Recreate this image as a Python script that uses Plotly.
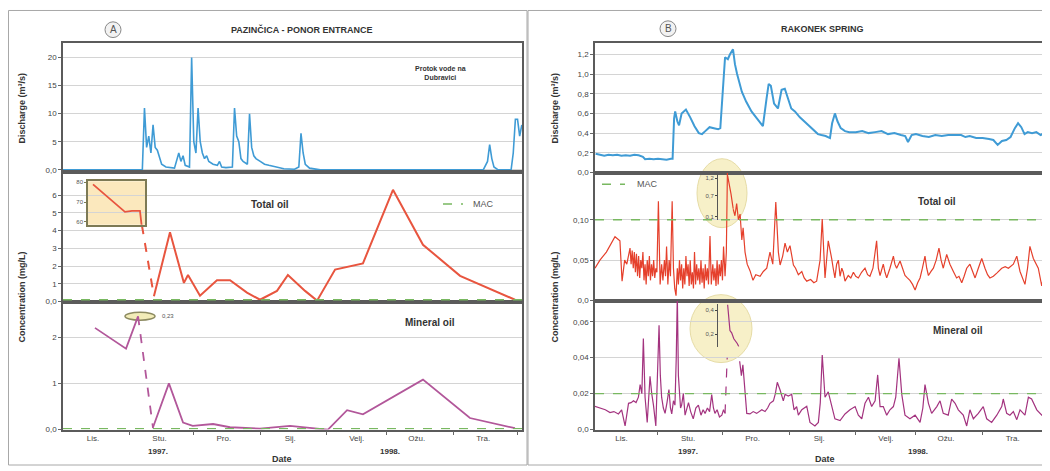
import pandas as pd
import plotly.graph_objects as go

W, H = 1042, 463   # page body adds an 8 px margin, so the figure fills 1050x471 with it
OFF = 8
T0 = pd.Timestamp("1997-10-01")  # all days are counted from 1 Oct 1997

months = ["Lis.", "Stu.", "Pro.", "Sij.", "Velj.", "Ožu.", "Tra."]
month_mid = ["1997-10-15", "1997-11-15", "1997-12-15", "1998-01-15", "1998-02-15", "1998-03-15", "1998-04-15"]
month_start = ["1997-11-01", "1997-12-01", "1998-01-01", "1998-02-01", "1998-03-01", "1998-04-01", "1998-05-01"]

mac_total = 0.10
mac_mineral = 0.02

# ---- A: Pazincica - ponor entrance
q_a_day = [0, 37, 38, 39, 40, 41, 42, 43, 44, 45, 46, 48, 52, 54, 55, 56, 57, 59, 60, 61,
           62, 63, 64, 65, 66, 67, 68, 70, 72, 73, 74, 76, 79, 80, 81, 82, 83, 84, 86, 87,
           88, 89, 90, 92, 94, 96, 99, 103, 108, 110, 111, 112, 113, 115, 120, 196, 198, 199, 200, 201,
           203, 209, 210, 211, 212, 213, 214]
q_a_val = [0, 0, 11, 4, 6, 3, 8, 4, 3.5, 2, 1, 0.5, 0.3, 3, 1.5, 2.5, 0.8, 0.5, 20, 5,
           3, 11, 5, 3, 2, 2.5, 1.5, 1, 0.8, 1.5, 0.5, 0.4, 0.5, 11, 6, 5, 2, 1.5, 1, 10,
           4, 2.5, 2, 1.5, 1, 0.8, 0.5, 0.2, 0.1, 0.5, 6.5, 3, 1, 0.3, 0, 0, 1.5, 4.5, 2, 0.5,
           0, 0, 3, 9, 9, 6, 8]

tot_a_day = [42.4, 49.9, 56.4, 58.3, 63.9, 71.8, 77.9, 85.8, 91.9, 99.8, 104.9, 112.9, 118.5,
             126.9, 139.9, 153.9, 167.9, 185.2, 210.8]
tot_a_val = [0.3, 3.9, 1.05, 1.5, 0.33, 1.2, 1.2, 0.5, 0.1, 0.6, 1.5, 0.6, 0.05,
             1.8, 2.15, 6.3, 3.2, 1.45, 0.1]
tot_a_gap_day = [36.8, 42.4]
tot_a_gap_val = [4.3, 0.3]
tot_a_inset_day = [14.0, 28.9, 32.2, 35.9, 36.8]
tot_a_inset_val = [79, 65, 65.5, 65.5, 57]

min_a_pre_day = [14.9, 29.4, 35.0]
min_a_pre_val = [2.2, 1.75, 2.45]
min_a_gap_day = [35.0, 42.0]
min_a_gap_val = [2.45, 0.03]
min_a_day = [42.0, 49.4, 56.0, 60.5, 70.0, 77.9, 91.9, 105.9, 118.5, 123.6, 132.5, 139.9, 167.9, 189.8, 210.8]
min_a_val = [0.05, 1.0, 0.15, 0.08, 0.12, 0.05, 0.02, 0.08, 0.02, 0.0, 0.42, 0.33, 1.08, 0.25, 0.03]

# ---- B: Rakonek spring
q_b_day = [2, 4, 6, 8, 10, 12, 14, 16, 18, 20, 22, 24, 25, 27, 29, 31, 33, 35, 37, 37.8,
           38.5, 39, 40, 40.8, 42, 44, 46, 48, 50, 51.5, 53, 55, 57, 59, 60, 61.5, 62.2, 63.5, 64.5, 65.9,
           66.8, 67.8, 70, 72, 74.5, 77, 79.8, 81.5, 82.5, 83.5, 85, 86.8, 88.5, 90, 91.5, 93, 94.7, 97, 99, 101,
           103, 105.4, 107, 109, 111, 112, 113.3, 114.5, 116, 118, 120, 123, 126, 129, 132, 135, 138, 141, 144, 146,
           147.3, 149, 151, 154, 157, 160, 163, 166, 169, 172, 174, 176, 179, 182, 185, 187, 189, 191, 193, 195,
           197, 198.5, 200, 201.5, 203, 205, 207, 209, 210.5, 212]
q_b_val = [0.19, 0.18, 0.17, 0.18, 0.175, 0.18, 0.17, 0.175, 0.17, 0.18, 0.175, 0.16, 0.135, 0.14, 0.135, 0.14, 0.135, 0.13, 0.14, 0.14,
           0.55, 0.62, 0.52, 0.48, 0.6, 0.64, 0.56, 0.47, 0.4, 0.39, 0.42, 0.46, 0.45, 0.44, 0.45, 1.0, 1.17, 1.15, 1.2, 1.25,
           1.1, 1.0, 0.82, 0.72, 0.62, 0.55, 0.47, 0.75, 0.9, 0.88, 0.7, 0.65, 0.84, 0.85, 0.75, 0.65, 0.62, 0.56, 0.52, 0.48,
           0.44, 0.39, 0.38, 0.37, 0.35, 0.5, 0.6, 0.52, 0.45, 0.42, 0.41, 0.41, 0.42, 0.4, 0.41, 0.42, 0.39, 0.4, 0.38, 0.37,
           0.31, 0.38, 0.39, 0.37, 0.36, 0.38, 0.37, 0.38, 0.38, 0.38, 0.36, 0.37, 0.35, 0.35, 0.34, 0.33, 0.28, 0.32, 0.33, 0.36,
           0.45, 0.5, 0.46, 0.39, 0.41, 0.4, 0.41, 0.38, 0.4, 0.53]

tot_b_day = [1.7, 4, 7, 9, 11, 13.3, 14.3, 15.5, 16.5, 18, 18.5, 19, 19.5, 20, 20.5, 21, 21.5, 22, 22.5, 23,
             23.5, 24, 24.5, 25, 25.5, 26, 26.5, 27, 27.5, 28, 28.5, 29, 29.5, 30, 30.5, 31.2, 32, 32.7, 33.3, 34,
             34.5, 35, 35.6, 36.2, 36.8, 37.6, 38.2, 38.8, 39.4, 40, 40.5, 41, 41.5, 42, 42.5, 43, 43.5, 44, 44.5, 45,
             45.5, 46, 46.5, 47, 47.5, 48, 48.5, 49, 49.5, 50, 50.5, 51, 51.5, 52, 52.5, 53, 53.5, 54, 54.5, 55.2,
             55.8, 56.5, 57, 57.5, 58, 58.5, 59, 59.5, 60, 60.5, 61, 61.5, 62.2, 62.8, 63.3, None,
             66.0, 66.8, 67.6, 68.4, 69.2, 70.0, 70.6, 71.5, 72.5, 73.8, 75.2, 76.5, 78.5, 80, 81.6, 83.1, 84.4, 85.8, 87.0, 87.8,
             89, 90.1, 91.2, 92.4, 94.0, 95, 96.3, 97.9, 99, 100.2, 102, 103.5, 104.8, 106.4, 107.4, 108.7, 110.2, 111.0, 111.8, 112.5,
             113.3, 114.1, 114.9, 115.7, 116.5, 117.2, 118, 119.5, 120.7, 121.9, 123, 124.2, 125.7, 127.3, 128.5, 129.6, 131, 132.7, 133.5, 134.3,
             135.8, 136.6, 137.4, 138.9, 140.5, 141.2, 142, 143.6, 144.7, 145.9, 147, 148.2, 149.4, 150.6, 151.8, 152.9, 154, 155.2, 156, 156.8,
             158, 159.1, 160.4, 161.7, 162.7, 163.7, 165.3, 166.8, 168.4, 169.9, 171, 172.3, 173.4, 174.6, 176.1, 177.3, 178.5, 180, 181.6, 183.1,
             184.3, 185.4, 187, 188.6, 190, 190.9, 192.5, 194, 196.3, 197.9, 199.4, 200.5, 201.7, 202.9, 204, 205.6, 206.8, 207.9, 209.5, 211,
             212.6]
tot_b_val = [0.040, 0.05, 0.06, 0.07, 0.079, 0.074, 0.024, 0.05, 0.045, 0.065, 0.045, 0.062, 0.04, 0.06, 0.035, 0.058, 0.03, 0.055, 0.028, 0.05,
             0.04, 0.06, 0.025, 0.045, 0.02, 0.05, 0.03, 0.055, 0.025, 0.045, 0.03, 0.05, 0.028, 0.04, 0.035, 0.123, 0.02, 0.045, 0.025, 0.05,
             0.03, 0.067, 0.02, 0.05, 0.03, 0.123, 0.04, 0.015, 0.006, 0.04, 0.02, 0.05, 0.025, 0.045, 0.015, 0.04, 0.02, 0.055, 0.03, 0.045,
             0.018, 0.05, 0.02, 0.035, 0.015, 0.06, 0.02, 0.045, 0.025, 0.04, 0.02, 0.05, 0.022, 0.04, 0.015, 0.045, 0.025, 0.04, 0.02, 0.08,
             0.02, 0.045, 0.025, 0.04, 0.018, 0.05, 0.02, 0.045, 0.03, 0.05, 0.025, 0.067, 0.03, 0.06, 0.16, None,
             0.113, 0.105, 0.12, 0.1, 0.107, 0.075, 0.09, 0.06, 0.045, 0.037, 0.025, 0.032, 0.03, 0.036, 0.04, 0.06, 0.045, 0.122, 0.06, 0.044,
             0.055, 0.071, 0.06, 0.068, 0.044, 0.04, 0.032, 0.036, 0.028, 0.024, 0.026, 0.022, 0.024, 0.05, 0.101, 0.028, 0.074, 0.06, 0.052, 0.04,
             0.028, 0.045, 0.05, 0.03, 0.04, 0.035, 0.024, 0.031, 0.028, 0.035, 0.03, 0.028, 0.035, 0.04, 0.032, 0.03, 0.04, 0.074, 0.04, 0.031,
             0.045, 0.035, 0.028, 0.04, 0.055, 0.045, 0.04, 0.049, 0.04, 0.031, 0.028, 0.025, 0.02, 0.013, 0.022, 0.028, 0.04, 0.055, 0.04, 0.031,
             0.036, 0.04, 0.05, 0.065, 0.05, 0.04, 0.057, 0.045, 0.036, 0.028, 0.03, 0.022, 0.03, 0.04, 0.045, 0.035, 0.028, 0.04, 0.052, 0.04,
             0.032, 0.028, 0.03, 0.034, 0.038, 0.04, 0.042, 0.04, 0.045, 0.055, 0.036, 0.028, 0.02, 0.04, 0.067, 0.052, 0.045, 0.04, 0.018, 0.04,
             0.03]
tot_b_inset_day = [63.4, 64.2, 65.0, 65.6, 66.0]
tot_b_inset_val = [1.28, 1.05, 0.75, 0.5, 0.33]

min_b_day = [1.5, 4, 6.5, 8.7, 10.5, 12.6, 14.1, 15.7, 17.3, 18.5, 19.6, 20.8, 21.9, 22.7, 23.5, 24.2, 25, 26, 26.6, 27.3,
             28.1, 28.9, 30, 30.8, 31.5, 32.1, 32.7, 33.5, 34.3, 35.2, 36.1, 36.8, 37.4, 38.2, 38.9, 39.5, 40.0, 40.5, 40.9, 41.5,
             42, 42.8, 43.6, 44.4, 45.2, 46.2, 47.4, 48.6, 49.8, 51, 52, 52.9, 54, 55, 56, 56.8, 57.5, 58.5, 59.6, 60.7,
             61.5, 62.2, None,
             69, 69.8, 70.5, 71.2, 72.3, 73.8, 75.3, 76.9, 78.1, 79.3, 80.8, 82, 83.1, 84.7, 85.6, 86.5, 87.8, 89.3, 90.1, 91.6,
             93.2, 94.3, 95.5, 96.3, 97.9, 99, 100.2, 101.7, 103, 104, 105.6, 106.5, 107.4, 108.7, 110.2, 111.8, 113.3, 115.7, 118, 120.3,
             122.7, 124.2, 125.8, 127.3, 128.9, 130.4, 132, 133.2, 134.3, 135.8, 137.4, 138.9, 140.5, 141.6, 143.1, 144.4, 145.9, 148.2, 150.6, 152.9,
             154.2, 155.2, 156.8, 158.3, 160.7, 162.2, 163.7, 166, 167.6, 169.2, 170.7, 173, 174.6, 176.1, 177.7, 180, 182.3, 183.9, 186.2, 188.6,
             190.9, 191.6, 193.2, 194.7, 196.3, 197.9, 199.4, 201.7, 203.3, 204.8, 207.2, 209.5, 211, 212.6]
min_b_val = [0.013, 0.0122, 0.011, 0.0095, 0.01, 0.0087, 0.011, 0.002, 0.0146, 0.015, 0.016, 0.015, 0.018, 0.025, 0.02, 0.0506, 0.018, 0.004, 0.015, 0.0296,
             0.02, 0.0136, 0.002, 0.03, 0.058, 0.03, 0.018, 0.012, 0.009, 0.015, 0.0223, 0.012, 0.0087, 0.016, 0.0136, 0.04, 0.075, 0.03, 0.022, 0.012,
             0.0136, 0.02, 0.008, 0.012, 0.015, 0.01, 0.006, 0.012, 0.0136, 0.008, 0.011, 0.009, 0.012, 0.01, 0.0195, 0.012, 0.009, 0.011, 0.007, 0.008,
             0.011, 0.009, None,
             0.038, 0.03, 0.036, 0.024, 0.009, 0.0087, 0.01, 0.009, 0.01, 0.011, 0.01, 0.012, 0.0146, 0.016, 0.02, 0.0263, 0.022, 0.016, 0.0196, 0.0186,
             0.0196, 0.011, 0.0128, 0.008, 0.011, 0.012, 0.013, 0.004, 0.003, 0.002, 0.004, 0.015, 0.0415, 0.018, 0.021, 0.0128, 0.006, 0.005, 0.0087, 0.011,
             0.0128, 0.008, 0.006, 0.0146, 0.018, 0.0128, 0.016, 0.0304, 0.0128, 0.0128, 0.008, 0.011, 0.0128, 0.018, 0.0397, 0.0196, 0.008, 0.006, 0.008, 0.004,
             0.012, 0.025, 0.0146, 0.009, 0.0128, 0.016, 0.009, 0.008, 0.017, 0.0146, 0.011, 0.008, 0.002, 0.011, 0.006, 0.009, 0.0128, 0.006, 0.004, 0.008,
             0.0128, 0.017, 0.009, 0.008, 0.01, 0.0055, 0.011, 0.008, 0.018, 0.017, 0.011, 0.008, 0.01, 0.008]
min_b_gap_day = [62.2, 63.2]
min_b_gap_val = [0.009, 0.04]
min_b_inset_day = [63.4, 64.5, 65.3, 66.3, 67.9, 68.6]
min_b_inset_val = [0.45, 0.23, 0.21, 0.16, 0.12, 0.095]

BLUE = "#3f9bd5"
RED = "#e5402c"
RED_A = "#e8553f"
PURPLE = "#a3337f"
PURPLE_A = "#b2579a"
GREEN = "#78b860"
FONT = "Liberation Sans, Arial, sans-serif"


def days(v):
    return [None if t is None else T0 + pd.Timedelta(minutes=round(t * 1440)) for t in v]


# positions below are given in screen pixels of the 1050x471 page
def fx(p):
    return (p - OFF) / W


def fy(p):
    return 1 - (p - OFF) / H


def xdom(a, b):
    return [fx(a), fx(b)]


def ydom(top, bottom):
    return [fy(bottom), fy(top)]


fig = go.Figure()


def line(xd, yv, xa, ya, color, width, dash="solid"):
    fig.add_trace(go.Scatter(x=days(xd), y=yv, xaxis=xa, yaxis=ya, mode="lines",
                             line=dict(color=color, width=width, dash=dash),
                             connectgaps=False, showlegend=False, hoverinfo="skip"))


line(q_a_day, q_a_val, "x", "y", BLUE, 1.6)
line(tot_a_day, tot_a_val, "x2", "y2", RED_A, 2)
line(tot_a_gap_day, tot_a_gap_val, "x2", "y2", RED_A, 2, "dash")
line(min_a_pre_day, min_a_pre_val, "x3", "y3", PURPLE_A, 1.8)
line(min_a_gap_day, min_a_gap_val, "x3", "y3", PURPLE_A, 1.8, "dash")
line(min_a_day, min_a_val, "x3", "y3", PURPLE_A, 1.8)
line(q_b_day, q_b_val, "x4", "y4", BLUE, 2)
line(tot_b_day, tot_b_val, "x5", "y5", RED, 1.2)
line(min_b_day, min_b_val, "x6", "y6", PURPLE, 1.2)
line(min_b_gap_day, min_b_gap_val, "x6", "y6", PURPLE, 1.2, "dash")
line(tot_a_inset_day, tot_a_inset_val, "x7", "y7", RED_A, 1.8)
line(tot_b_inset_day, tot_b_inset_val, "x8", "y8", RED, 1.2)
line(min_b_inset_day, min_b_inset_val, "x9", "y9", PURPLE, 1.2)

# axis styles
box = dict(showline=True, mirror=True, linecolor="#5b5b5b", linewidth=1.5, zeroline=False, showgrid=False)
tickfont = dict(size=8, color="#444", family=FONT)
yst = dict(box, showgrid=True, gridcolor="#d4d4d4", gridwidth=1, ticks="outside", ticklen=3,
           tickcolor="#666", tickfont=tickfont, tickmode="array")

range_a = [T0, T0 + pd.Timedelta(hours=214 * 24 + 2)]
range_b = [T0 + pd.Timedelta(hours=41), T0 + pd.Timedelta(hours=212 * 24 + 10)]
dom_a = xdom(63, 522)
dom_b = xdom(595, 1048)

xs_top = dict(box, type="date", showticklabels=False, ticks="")
xs_bot = dict(box, type="date", tickmode="array", tickvals=month_mid, ticktext=months, ticks="",
              tickfont=tickfont,
              minor=dict(tickmode="array", tickvals=month_start, ticks="outside", ticklen=4, tickcolor="#666"))

inset_range = [T0 + pd.Timedelta(hours=58 * 24 + 22), T0 + pd.Timedelta(hours=72 * 24 + 22)]

layout = dict(
    width=W, height=H, margin=dict(l=0, r=0, t=0, b=0),
    paper_bgcolor="white", plot_bgcolor="rgba(0,0,0,0)",
    font=dict(family=FONT, color="#333"), showlegend=False,
    xaxis=dict(xs_top, domain=dom_a, range=range_a, anchor="y"),
    xaxis2=dict(xs_top, domain=dom_a, range=range_a, anchor="y2"),
    xaxis3=dict(xs_bot, domain=dom_a, range=range_a, anchor="y3"),
    xaxis4=dict(xs_top, domain=dom_b, range=range_b, anchor="y4"),
    xaxis5=dict(xs_top, domain=dom_b, range=range_b, anchor="y5"),
    xaxis6=dict(xs_bot, domain=dom_b, range=range_b, anchor="y6"),
    yaxis=dict(yst, domain=ydom(42, 172), range=[-0.3, 22.5], anchor="x",
               tickvals=[0, 5, 10, 15, 20], ticktext=["0,0", "5", "10", "15", "20"]),
    yaxis2=dict(yst, domain=ydom(172, 304), range=[0, 7.33], anchor="x2",
                tickvals=[0, 1, 2, 3, 4, 5, 6], ticktext=["0,0", "1", "2", "3", "4", "5", "6"]),
    yaxis3=dict(yst, domain=ydom(304, 434), range=[0, 2.77], anchor="x3",
                tickvals=[0, 1, 2], ticktext=["0,0", "1", "2"]),
    yaxis4=dict(yst, domain=ydom(42, 173), range=[0, 1.31], anchor="x4",
                tickvals=[0, 0.2, 0.4, 0.6, 0.8, 1.0, 1.2],
                ticktext=["0,0", "0,2", "0,4", "0,6", "0,8", "1,0", "1,2"]),
    yaxis5=dict(yst, domain=ydom(173, 303), range=[0, 0.1585], anchor="x5",
                tickvals=[0, 0.05, 0.10], ticktext=["0,0", "0,05", "0,10"]),
    yaxis6=dict(yst, domain=ydom(303, 434), range=[0, 0.0718], anchor="x6",
                tickvals=[0, 0.02, 0.04, 0.06], ticktext=["0,0", "0,02", "0,04", "0,06"]),
    # inset A (total oil before the break)
    xaxis7=dict(type="date", domain=xdom(88, 145), anchor="y7",
                range=[T0 + pd.Timedelta(hours=280), T0 + pd.Timedelta(hours=918)],
                showline=True, mirror=True, linecolor="#7d7a55", linewidth=1.5,
                showticklabels=False, ticks="", showgrid=False, zeroline=False),
    yaxis7=dict(domain=ydom(182, 226), anchor="x7", range=[58.5, 80.5],
                showline=True, mirror=True, linecolor="#7d7a55", linewidth=1.5,
                tickmode="array", tickvals=[60, 70, 80], ticktext=["60", "70", "80"],
                ticks="outside", ticklen=2, tickcolor="#7d7a55",
                tickfont=dict(size=6, color="#555"), showgrid=False, zeroline=False),
    # insets B
    xaxis8=dict(type="date", domain=xdom(718, 748), anchor="y8", visible=False, range=inset_range),
    yaxis8=dict(domain=ydom(175, 221.5), anchor="x8", range=[0, 1.31],
                showline=True, linecolor="#555", linewidth=1, showgrid=False, zeroline=False,
                tickmode="array", tickvals=[0.1, 0.7, 1.2], ticktext=["0,1", "0,7", "1,2"],
                ticks="outside", ticklen=2, tickfont=dict(size=6, color="#555")),
    xaxis9=dict(type="date", domain=xdom(718, 748), anchor="y9", visible=False, range=inset_range),
    yaxis9=dict(domain=ydom(307, 350), anchor="x9", range=[0.092, 0.45],
                showline=True, linecolor="#555", linewidth=1, showgrid=False, zeroline=False,
                tickmode="array", tickvals=[0.2, 0.4], ticktext=["0,2", "0,4"],
                ticks="outside", ticklen=2, tickfont=dict(size=6, color="#555")),
)
fig.update_layout(**layout)


def rect(x0, y0, x1, y1, kind="rect", **kw):
    return dict(type=kind, xref="paper", yref="paper", x0=fx(x0), x1=fx(x1), y0=fy(y1), y1=fy(y0), **kw)


shapes = [
    rect(8.5, 8.5, 527, 470, line=dict(color="#a8a8a8", width=1), layer="below"),
    rect(528, 8.5, 1049, 470, line=dict(color="#a8a8a8", width=1), layer="below"),
    rect(105, 20, 121, 36, "circle", line=dict(color="#888", width=1), fillcolor="#f2f2f2", layer="below"),
    rect(660, 19, 676, 35, "circle", line=dict(color="#888", width=1), fillcolor="#f2f2f2", layer="below"),
    rect(697, 159, 747, 229, "circle", line=dict(color="#e6dca6", width=1), fillcolor="#f7f0c8", layer="below"),
    rect(690, 297, 752, 366, "circle", line=dict(color="#e6dca6", width=1), fillcolor="#f7f0c8", layer="below"),
    rect(125, 315, 155, 323, "circle", line=dict(color="#8c8a60", width=1.5), fillcolor="#f2ecb8", layer="below"),
    rect(88, 182, 145, 226, fillcolor="#fbe8bd", line=dict(width=0), layer="below"),
    # MAC legend keys
    dict(type="line", xref="paper", yref="paper", x0=fx(443), x1=fx(463), y0=fy(205), y1=fy(205),
         line=dict(color=GREEN, width=1.5, dash="dash")),
    dict(type="line", xref="paper", yref="paper", x0=fx(602), x1=fx(625), y0=fy(185), y1=fy(185),
         line=dict(color=GREEN, width=1.5, dash="dash")),
]
# MAC reference lines on each concentration panel
for xa, ya, v in [("x2", "y2", mac_total), ("x3", "y3", mac_mineral),
                  ("x5", "y5", mac_total), ("x6", "y6", mac_mineral)]:
    shapes.append(dict(type="line", xref=f"{xa} domain", yref=ya, x0=0, x1=1, y0=v, y1=v,
                       line=dict(color=GREEN, width=1.3, dash="dash")))
fig.update_layout(shapes=shapes)


def note(text, x, y, size=9, bold=True, angle=0, color="#333", xanchor="center"):
    return dict(text=f"<b>{text}</b>" if bold else text, x=fx(x), y=fy(y), xref="paper", yref="paper",
                showarrow=False, textangle=angle, xanchor=xanchor, yanchor="middle",
                font=dict(size=size, color=color, family=FONT))


annotations = [
    note("A", 113, 28, 10, False, color="#555"),
    note("PAZINČICA - PONOR ENTRANCE", 302, 28, 9),
    note("B", 668, 27, 10, False, color="#555"),
    note("RAKONEK SPRING", 822, 27, 9),
    note("Protok vode na<br>Dubravici", 440, 72, 7),
    note("Total oil", 270, 205, 10),
    note("MAC", 483, 205, 9, False, color="#555"),
    note("Mineral oil", 430, 325, 10),
    note("0,23", 160, 319, 6, False, color="#555", xanchor="left"),
    note("MAC", 647, 185, 9, False, color="#555"),
    note("Total oil", 937, 202, 10),
    note("Mineral oil", 958, 333, 10),
    note("Discharge (m³/s)", 22, 108, 9, angle=-90),
    note("Concentration (mg/L)", 22, 300, 9, angle=-90),
    note("Discharge (m³/s)", 555, 108, 9, angle=-90),
    note("Concentration (mg/L)", 555, 300, 9, angle=-90),
    note("1997.", 158, 456, 8),
    note("1998.", 390, 456, 8),
    note("Date", 282, 464, 9),
    note("1997.", 688, 456, 8),
    note("1998.", 918, 456, 8),
    note("Date", 825, 464, 9),
]
fig.update_layout(annotations=annotations)

fig.write_html("out.html")
